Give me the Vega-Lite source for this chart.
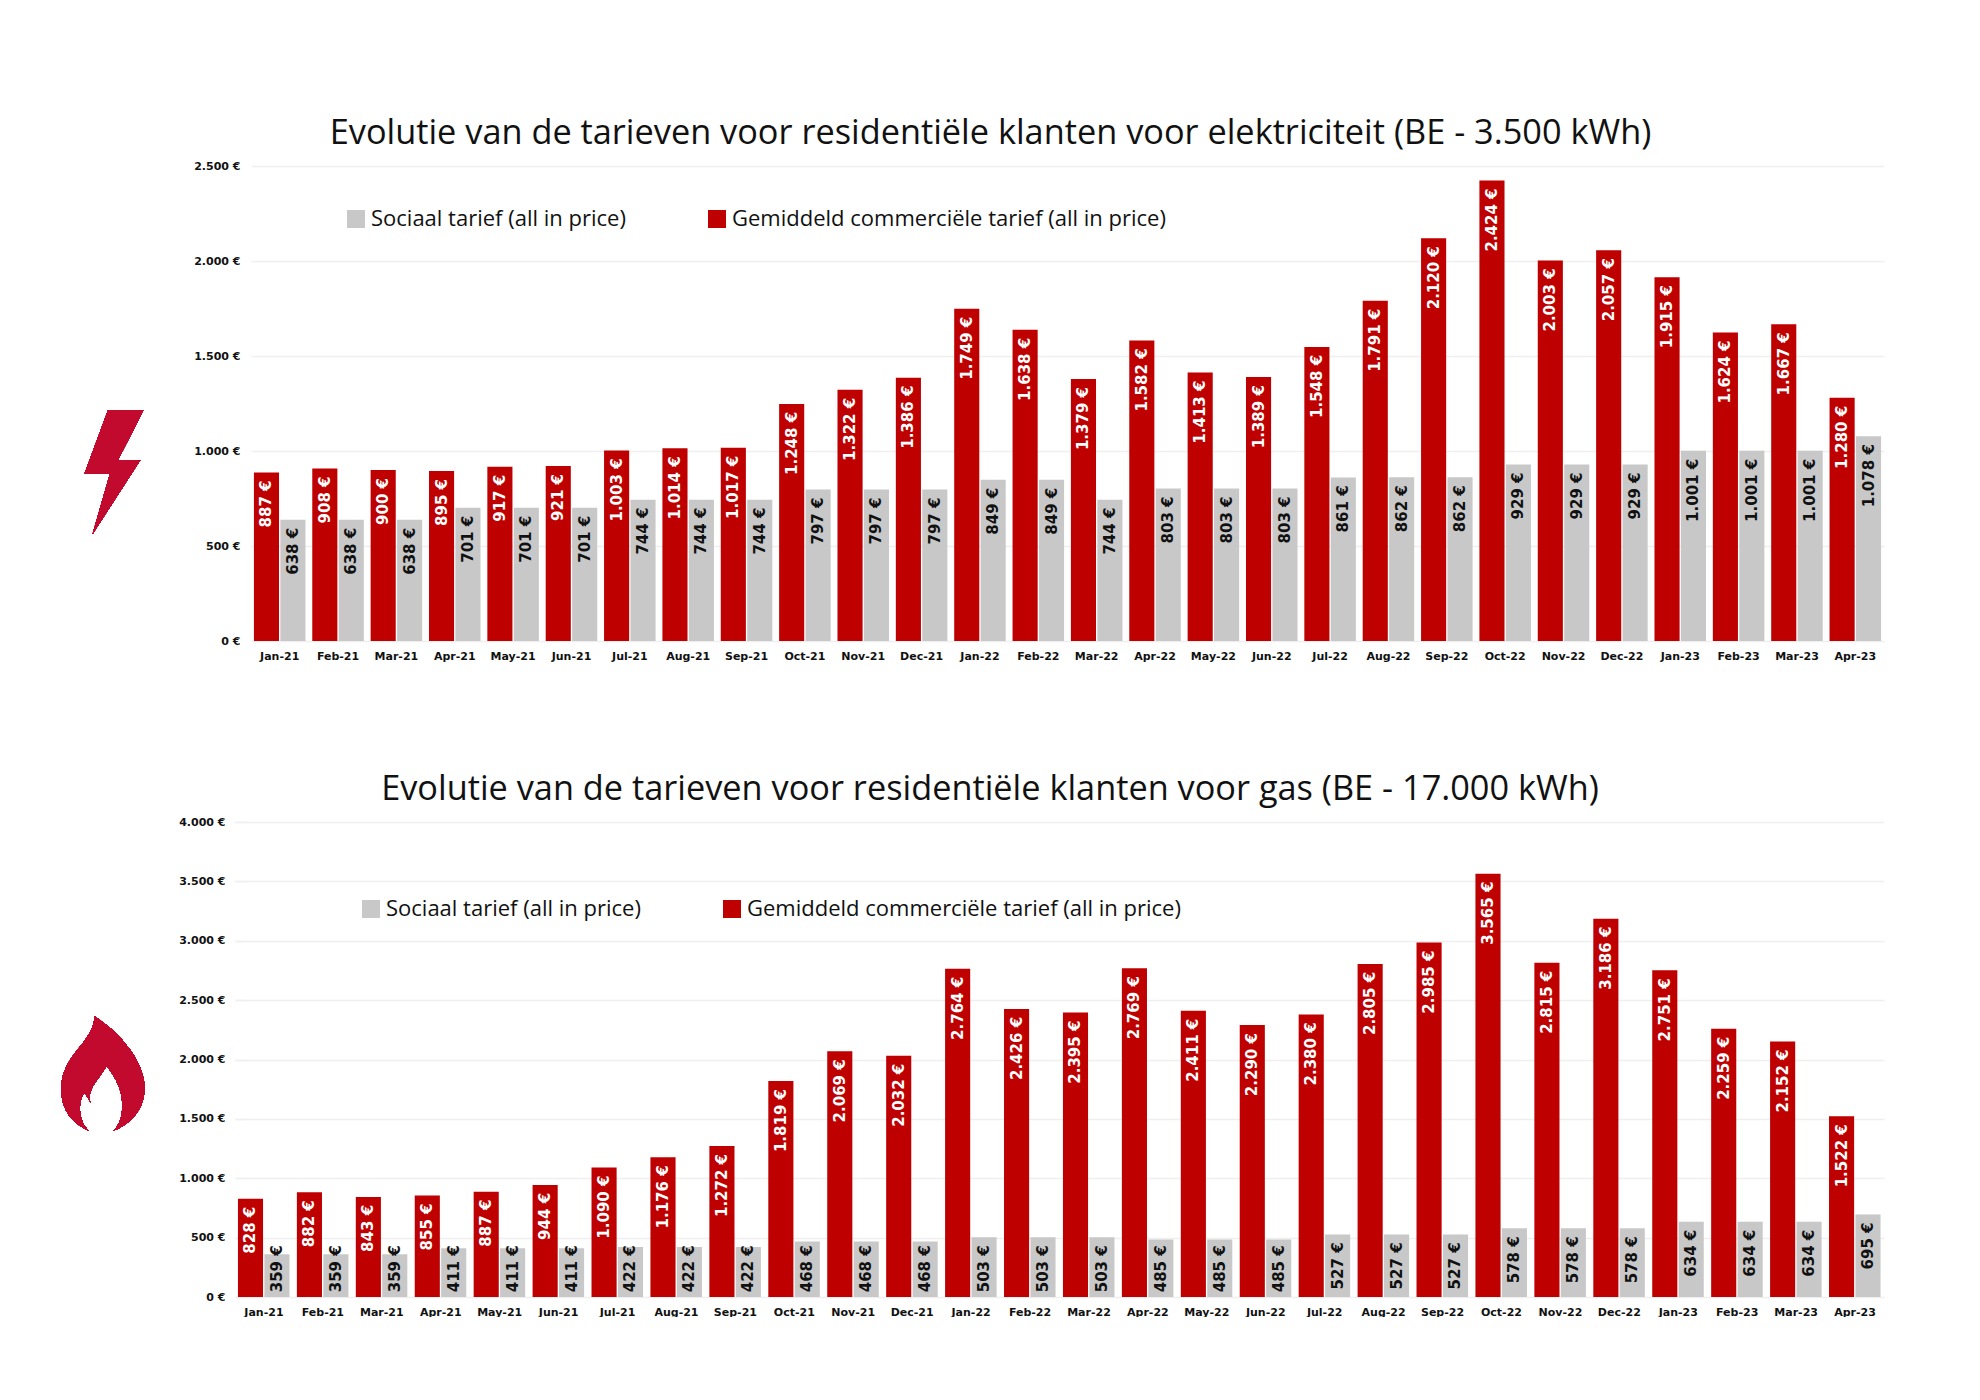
{"$schema":"https://vega.github.io/schema/vega-lite/v6.json","background":"white","padding":{"left":61,"top":116,"right":0,"bottom":0},"spacing":111,"resolve":{"scale":{"color":"independent"},"legend":{"color":"independent"}},"datasets":{"elec":[{"m":"Jan-21","s":"G","v":887},{"m":"Feb-21","s":"G","v":908},{"m":"Mar-21","s":"G","v":900},{"m":"Apr-21","s":"G","v":895},{"m":"May-21","s":"G","v":917},{"m":"Jun-21","s":"G","v":921},{"m":"Jul-21","s":"G","v":1003},{"m":"Aug-21","s":"G","v":1014},{"m":"Sep-21","s":"G","v":1017},{"m":"Oct-21","s":"G","v":1248},{"m":"Nov-21","s":"G","v":1322},{"m":"Dec-21","s":"G","v":1386},{"m":"Jan-22","s":"G","v":1749},{"m":"Feb-22","s":"G","v":1638},{"m":"Mar-22","s":"G","v":1379},{"m":"Apr-22","s":"G","v":1582},{"m":"May-22","s":"G","v":1413},{"m":"Jun-22","s":"G","v":1389},{"m":"Jul-22","s":"G","v":1548},{"m":"Aug-22","s":"G","v":1791},{"m":"Sep-22","s":"G","v":2120},{"m":"Oct-22","s":"G","v":2424},{"m":"Nov-22","s":"G","v":2003},{"m":"Dec-22","s":"G","v":2057},{"m":"Jan-23","s":"G","v":1915},{"m":"Feb-23","s":"G","v":1624},{"m":"Mar-23","s":"G","v":1667},{"m":"Apr-23","s":"G","v":1280},{"m":"Jan-21","s":"S","v":638},{"m":"Feb-21","s":"S","v":638},{"m":"Mar-21","s":"S","v":638},{"m":"Apr-21","s":"S","v":701},{"m":"May-21","s":"S","v":701},{"m":"Jun-21","s":"S","v":701},{"m":"Jul-21","s":"S","v":744},{"m":"Aug-21","s":"S","v":744},{"m":"Sep-21","s":"S","v":744},{"m":"Oct-21","s":"S","v":797},{"m":"Nov-21","s":"S","v":797},{"m":"Dec-21","s":"S","v":797},{"m":"Jan-22","s":"S","v":849},{"m":"Feb-22","s":"S","v":849},{"m":"Mar-22","s":"S","v":744},{"m":"Apr-22","s":"S","v":803},{"m":"May-22","s":"S","v":803},{"m":"Jun-22","s":"S","v":803},{"m":"Jul-22","s":"S","v":861},{"m":"Aug-22","s":"S","v":862},{"m":"Sep-22","s":"S","v":862},{"m":"Oct-22","s":"S","v":929},{"m":"Nov-22","s":"S","v":929},{"m":"Dec-22","s":"S","v":929},{"m":"Jan-23","s":"S","v":1001},{"m":"Feb-23","s":"S","v":1001},{"m":"Mar-23","s":"S","v":1001},{"m":"Apr-23","s":"S","v":1078}],"gas":[{"m":"Jan-21","s":"G","v":828},{"m":"Feb-21","s":"G","v":882},{"m":"Mar-21","s":"G","v":843},{"m":"Apr-21","s":"G","v":855},{"m":"May-21","s":"G","v":887},{"m":"Jun-21","s":"G","v":944},{"m":"Jul-21","s":"G","v":1090},{"m":"Aug-21","s":"G","v":1176},{"m":"Sep-21","s":"G","v":1272},{"m":"Oct-21","s":"G","v":1819},{"m":"Nov-21","s":"G","v":2069},{"m":"Dec-21","s":"G","v":2032},{"m":"Jan-22","s":"G","v":2764},{"m":"Feb-22","s":"G","v":2426},{"m":"Mar-22","s":"G","v":2395},{"m":"Apr-22","s":"G","v":2769},{"m":"May-22","s":"G","v":2411},{"m":"Jun-22","s":"G","v":2290},{"m":"Jul-22","s":"G","v":2380},{"m":"Aug-22","s":"G","v":2805},{"m":"Sep-22","s":"G","v":2985},{"m":"Oct-22","s":"G","v":3565},{"m":"Nov-22","s":"G","v":2815},{"m":"Dec-22","s":"G","v":3186},{"m":"Jan-23","s":"G","v":2751},{"m":"Feb-23","s":"G","v":2259},{"m":"Mar-23","s":"G","v":2152},{"m":"Apr-23","s":"G","v":1522},{"m":"Jan-21","s":"S","v":359},{"m":"Feb-21","s":"S","v":359},{"m":"Mar-21","s":"S","v":359},{"m":"Apr-21","s":"S","v":411},{"m":"May-21","s":"S","v":411},{"m":"Jun-21","s":"S","v":411},{"m":"Jul-21","s":"S","v":422},{"m":"Aug-21","s":"S","v":422},{"m":"Sep-21","s":"S","v":422},{"m":"Oct-21","s":"S","v":468},{"m":"Nov-21","s":"S","v":468},{"m":"Dec-21","s":"S","v":468},{"m":"Jan-22","s":"S","v":503},{"m":"Feb-22","s":"S","v":503},{"m":"Mar-22","s":"S","v":503},{"m":"Apr-22","s":"S","v":485},{"m":"May-22","s":"S","v":485},{"m":"Jun-22","s":"S","v":485},{"m":"Jul-22","s":"S","v":527},{"m":"Aug-22","s":"S","v":527},{"m":"Sep-22","s":"S","v":527},{"m":"Oct-22","s":"S","v":578},{"m":"Nov-22","s":"S","v":578},{"m":"Dec-22","s":"S","v":578},{"m":"Jan-23","s":"S","v":634},{"m":"Feb-23","s":"S","v":634},{"m":"Mar-23","s":"S","v":634},{"m":"Apr-23","s":"S","v":695}]},"vconcat":[{"width":1639,"height":475,"title":{"text":"Evolutie van de tarieven voor residentiële klanten voor elektriciteit (BE - 3.500 kWh)","dx":-74},"data":{"name":"elec"},"encoding":{"x":{"field":"m","type":"nominal","sort":null,"title":null,"scale":{"paddingInner":0.117,"paddingOuter":0.05,"range":[6,1639]},"axis":{"labelAngle":0,"labelPadding":9,"ticks":false,"domain":false,"labelFontSize":11,"labelFontWeight":"bold","labelFont":"DejaVu Sans","labelColor":"#111","labelOverlap":false}},"y":{"field":"v","type":"quantitative","title":null,"scale":{"domain":[0,2500]},"axis":{"values":[0,500,1000,1500,2000,2500],"format":"$,d","minExtent":184,"labelPadding":5,"ticks":false,"domain":false,"grid":true,"gridColor":"#EFEFEF","gridWidth":1.5,"labelFontSize":11,"labelFontWeight":"bold","labelFont":"DejaVu Sans","labelColor":"#111"}},"xOffset":{"field":"s","type":"nominal","scale":{"domain":["G","S"],"paddingInner":0.05}}},"layer":[{"mark":{"type":"bar"},"encoding":{"color":{"field":"s","type":"nominal","scale":{"domain":["S","G"],"range":["#C8C8C8","#BE0000"]},"legend":{"title":null,"orient":"none","legendX":100,"legendY":42,"direction":"horizontal","symbolType":"square","symbolSize":324,"symbolOpacity":1,"labelFontSize":22,"labelFont":"Open Sans","labelColor":"#111","labelLimit":600,"columnPadding":79,"labelExpr":"datum.label=='S'?'Sociaal tarief (all in price)':'Gemiddeld commerciële tarief (all in price)'","encoding":{"symbols":{"fill":[{"test":"datum.value=='G'","value":"#C20A2E"},{"value":"#C8C8C8"}],"stroke":{"value":"transparent"}}}}}}},{"transform":[{"filter":"datum.s=='G'"}],"mark":{"type":"text","angle":270,"align":"right","baseline":"middle","dx":-8,"color":"white","fontWeight":"bold","fontSize":15,"font":"DejaVu Sans"},"encoding":{"text":{"field":"v","type":"quantitative","format":"$,d"}}},{"transform":[{"filter":"datum.s=='S'"}],"mark":{"type":"text","angle":270,"align":"right","baseline":"middle","dx":-8,"color":"#111","fontWeight":"bold","fontSize":15,"font":"DejaVu Sans"},"encoding":{"text":{"field":"v","type":"quantitative","format":"$,d"}}},{"mark":{"type":"point","filled":true,"opacity":1,"color":"#C20A2E","xOffset":-166,"size":15376,"shape":"M-.09,-1 L.48,-1 L.07,-.19 L.43,-.19 L-.34,1 L-.06,.03 L-.47,.03 Z"},"encoding":{"x":{"datum":"Jan-21"},"y":{"datum":890},"xOffset":null}}]},{"width":1639,"height":475,"title":{"text":"Evolutie van de tarieven voor residentiële klanten voor gas (BE - 17.000 kWh)","dx":-74.5},"data":{"name":"gas"},"encoding":{"x":{"field":"m","type":"nominal","sort":null,"title":null,"scale":{"paddingInner":0.117,"paddingOuter":0.05,"range":[-10,1639]},"axis":{"labelAngle":0,"labelPadding":9,"ticks":false,"domain":false,"labelFontSize":11,"labelFontWeight":"bold","labelFont":"DejaVu Sans","labelColor":"#111","labelOverlap":false}},"y":{"field":"v","type":"quantitative","title":null,"scale":{"domain":[0,4000]},"axis":{"values":[0,500,1000,1500,2000,2500,3000,3500,4000],"format":"$,d","minExtent":184,"labelPadding":10,"ticks":true,"tickSize":10,"tickColor":"#EFEFEF","tickWidth":1.5,"domain":false,"grid":true,"gridColor":"#EFEFEF","gridWidth":1.5,"labelFontSize":11,"labelFontWeight":"bold","labelFont":"DejaVu Sans","labelColor":"#111"}},"xOffset":{"field":"s","type":"nominal","scale":{"domain":["G","S"],"paddingInner":0.05}}},"layer":[{"mark":{"type":"bar"},"encoding":{"color":{"field":"s","type":"nominal","scale":{"domain":["S","G"],"range":["#C8C8C8","#BE0000"]},"legend":{"title":null,"orient":"none","legendX":115,"legendY":76,"direction":"horizontal","symbolType":"square","symbolSize":324,"symbolOpacity":1,"labelFontSize":22,"labelFont":"Open Sans","labelColor":"#111","labelLimit":600,"columnPadding":79,"labelExpr":"datum.label=='S'?'Sociaal tarief (all in price)':'Gemiddeld commerciële tarief (all in price)'","encoding":{"symbols":{"fill":[{"test":"datum.value=='G'","value":"#C20A2E"},{"value":"#C8C8C8"}],"stroke":{"value":"transparent"}}}}}}},{"transform":[{"filter":"datum.s=='G'"}],"mark":{"type":"text","angle":270,"align":"right","baseline":"middle","dx":-8,"color":"white","fontWeight":"bold","fontSize":15,"font":"DejaVu Sans"},"encoding":{"text":{"field":"v","type":"quantitative","format":"$,d"}}},{"transform":[{"filter":"datum.s=='S'"},{"calculate":"max(datum.v,503)","as":"anchor"}],"mark":{"type":"text","angle":270,"align":"right","baseline":"middle","dx":-8,"color":"#111","fontWeight":"bold","fontSize":15,"font":"DejaVu Sans"},"encoding":{"y":{"field":"anchor","type":"quantitative"},"text":{"field":"v","type":"quantitative","format":"$,d"}}},{"mark":{"type":"point","filled":true,"opacity":1,"color":"#C20A2E","xOffset":-161,"size":13070,"shape":"M-.146,-1 C.35,-.69 .729,-.17 .729,.242 C.729,.65 .466,.88 .187,1 C.38,.82 .44,.3 .058,-.137 C0,.037 -.29,.24 -.22,.504 L-.32,.33 C-.44,.475 -.44,.825 -.245,1 C-.525,.88 -.73,.65 -.73,.27 C-.73,-.34 -.175,-.516 -.146,-1 Z"},"encoding":{"x":{"datum":"Jan-21"},"y":{"datum":1881},"xOffset":null}}]}],"config":{"view":{"stroke":null},"locale":{"number":{"decimal":",","thousands":".","grouping":[3],"currency":["","\u00a0€"]}},"title":{"font":"Open Sans","fontSize":34.3,"fontWeight":"normal","color":"#111","anchor":"middle","offset":9}}}
